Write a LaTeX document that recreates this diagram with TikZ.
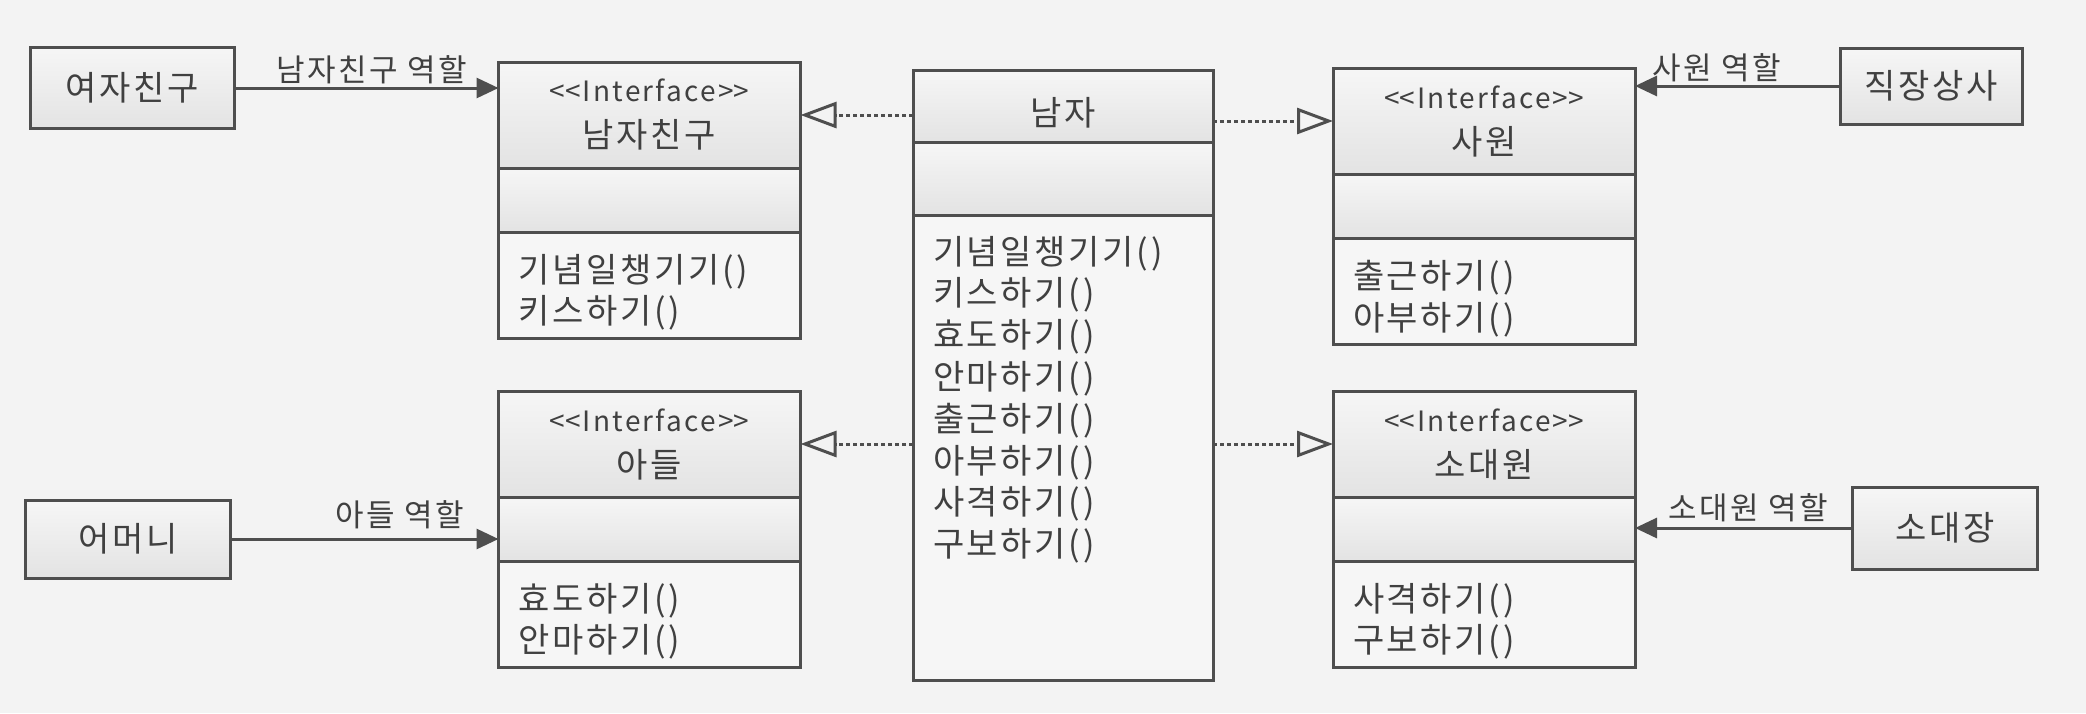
\documentclass[tikz,border=0pt]{standalone}
\usepackage{fontspec}
\setmainfont{Noto Sans CJK KR}[LetterSpace=8]
\newfontfamily\ifacefont{Noto Sans CJK KR}[LetterSpace=8]
\usetikzlibrary{positioning,arrows.meta}
\definecolor{linegray}{HTML}{4E4E4E}
\definecolor{inkgray}{HTML}{404040}
\definecolor{paper}{HTML}{F3F3F3}
\definecolor{boxwhite}{HTML}{F6F6F6}
\definecolor{headgray}{HTML}{E3E3E3}

\begin{document}
\begin{tikzpicture}[x=0.5pt,y=-0.5pt]
\tikzstyle{every node}=[outer sep=0pt,text=inkgray,font=\fontsize{17}{20.9}\selectfont];
\tikzstyle{actor}=[draw=linegray,line width=1.5pt,top color=boxwhite,bottom color=headgray];
\tikzstyle{classhead}=[draw=linegray,line width=1.5pt,minimum width=151pt,minimum height=53pt,top color=boxwhite,bottom color=headgray,align=center,inner sep=0pt,font=\fontsize{17}{23}\selectfont];
\tikzstyle{classblank}=[draw=linegray,line width=1.5pt,minimum width=151pt,minimum height=32pt,top color=boxwhite,bottom color=headgray];
\tikzstyle{classbody}=[draw=linegray,line width=1.5pt,minimum width=151pt,minimum height=53pt,fill=boxwhite];
\tikzstyle{ops}=[anchor=north west,align=left,inner sep=0pt];
\tikzstyle{role}=[font=\fontsize{15.5}{18}\selectfont,inner sep=0pt];
\tikzstyle{assoc}=[draw=linegray,line width=1.5pt,-{Triangle[length=11pt,width=10pt]}];
\tikzstyle{realize}=[draw=linegray,line width=1.5pt,dash pattern=on 2pt off 1.5pt,-{Triangle[open,length=18pt,width=13pt]}];

\fill[paper] (0,0) rectangle (2086,713);
\useasboundingbox (0,0) rectangle (2086,713);

% actors
\node[actor,minimum width=102pt,minimum height=40.5pt] (gf) at (132,88) {여자친구};
\node[actor,minimum width=102.5pt,minimum height=39pt] (mom) at (128,539) {어머니};
\node[actor,minimum width=91pt,minimum height=38pt] (boss) at (1931,86) {직장상사};
\node[actor,minimum width=92.5pt,minimum height=41pt] (leader) at (1945,528) {소대장};

% interface boyfriend
\node[classhead,anchor=north] (bfhead) at (649.5,62) {{\ifacefont\fontsize{14}{17}\selectfont <\kern0pt<Interface>\kern0pt>}\\남자친구};
\node[classblank,below=0pt of bfhead] (bfblank) {};
\node[classbody,below=0pt of bfblank] (bfbody) {};
\node[ops] (bfops) at ([shift={(10pt,-11pt)}]bfbody.north west) {기념일챙기기()\\키스하기()};

% interface son
\node[classhead,anchor=north] (sonhead) at (649.5,391) {{\ifacefont\fontsize{14}{17}\selectfont <\kern0pt<Interface>\kern0pt>}\\아들};
\node[classblank,below=0pt of sonhead] (sonblank) {};
\node[classbody,below=0pt of sonblank] (sonbody) {};
\node[ops] (sonops) at ([shift={(10pt,-11pt)}]sonbody.north west) {효도하기()\\안마하기()};

% interface employee
\node[classhead,anchor=north] (emphead) at (1484,68) {{\ifacefont\fontsize{14}{17}\selectfont <\kern0pt<Interface>\kern0pt>}\\사원};
\node[classblank,below=0pt of emphead] (empblank) {};
\node[classbody,below=0pt of empblank] (empbody) {};
\node[ops] (empops) at ([shift={(10pt,-11pt)}]empbody.north west) {출근하기()\\아부하기()};

% interface soldier
\node[classhead,anchor=north] (solhead) at (1484,391) {{\ifacefont\fontsize{14}{17}\selectfont <\kern0pt<Interface>\kern0pt>}\\소대원};
\node[classblank,below=0pt of solhead] (solblank) {};
\node[classbody,below=0pt of solblank] (solbody) {};
\node[ops] (solops) at ([shift={(10pt,-11pt)}]solbody.north west) {사격하기()\\구보하기()};

% class man
\node[classhead,anchor=north,minimum width=150pt,minimum height=36pt,text height=19.5pt,text depth=0pt] (manhead) at (1063,70) {남자};
\node[classblank,below=0pt of manhead,minimum width=150pt,minimum height=36.5pt] (manblank) {};
\node[classbody,below=0pt of manblank,minimum width=150pt,minimum height=232.5pt] (manbody) {};
\node[ops] (manops) at ([shift={(10pt,-10.5pt)}]manbody.north west) {기념일챙기기()\\키스하기()\\효도하기()\\안마하기()\\출근하기()\\아부하기()\\사격하기()\\구보하기()};

% roles
\draw[assoc] (gf.east) -- node[role,pos=0.52,above=2pt] (gfrole) {남자친구 역할} (gf.east -| bfhead.west);
\draw[assoc] (mom.east) -- node[role,pos=0.63,above=5pt] (momrole) {아들 역할} (mom.east -| sonblank.west);
\draw[assoc] (boss.west) -- node[role,pos=0.6,above=2pt] (bossrole) {사원 역할} (boss.west -| emphead.east);
\draw[assoc] (leader.west) -- node[role,pos=0.48,above=3pt] (leaderrole) {소대원 역할} (leader.west -| solblank.east);

% realization
\draw[realize] (bfhead.east -| manhead.west) -- (bfhead.east);
\draw[realize] (emphead.west -| manhead.east) -- (emphead.west);
\draw[realize] (sonhead.east -| manbody.west) -- (sonhead.east);
\draw[realize] (solhead.west -| manbody.east) -- (solhead.west);
\end{tikzpicture}
\end{document}
